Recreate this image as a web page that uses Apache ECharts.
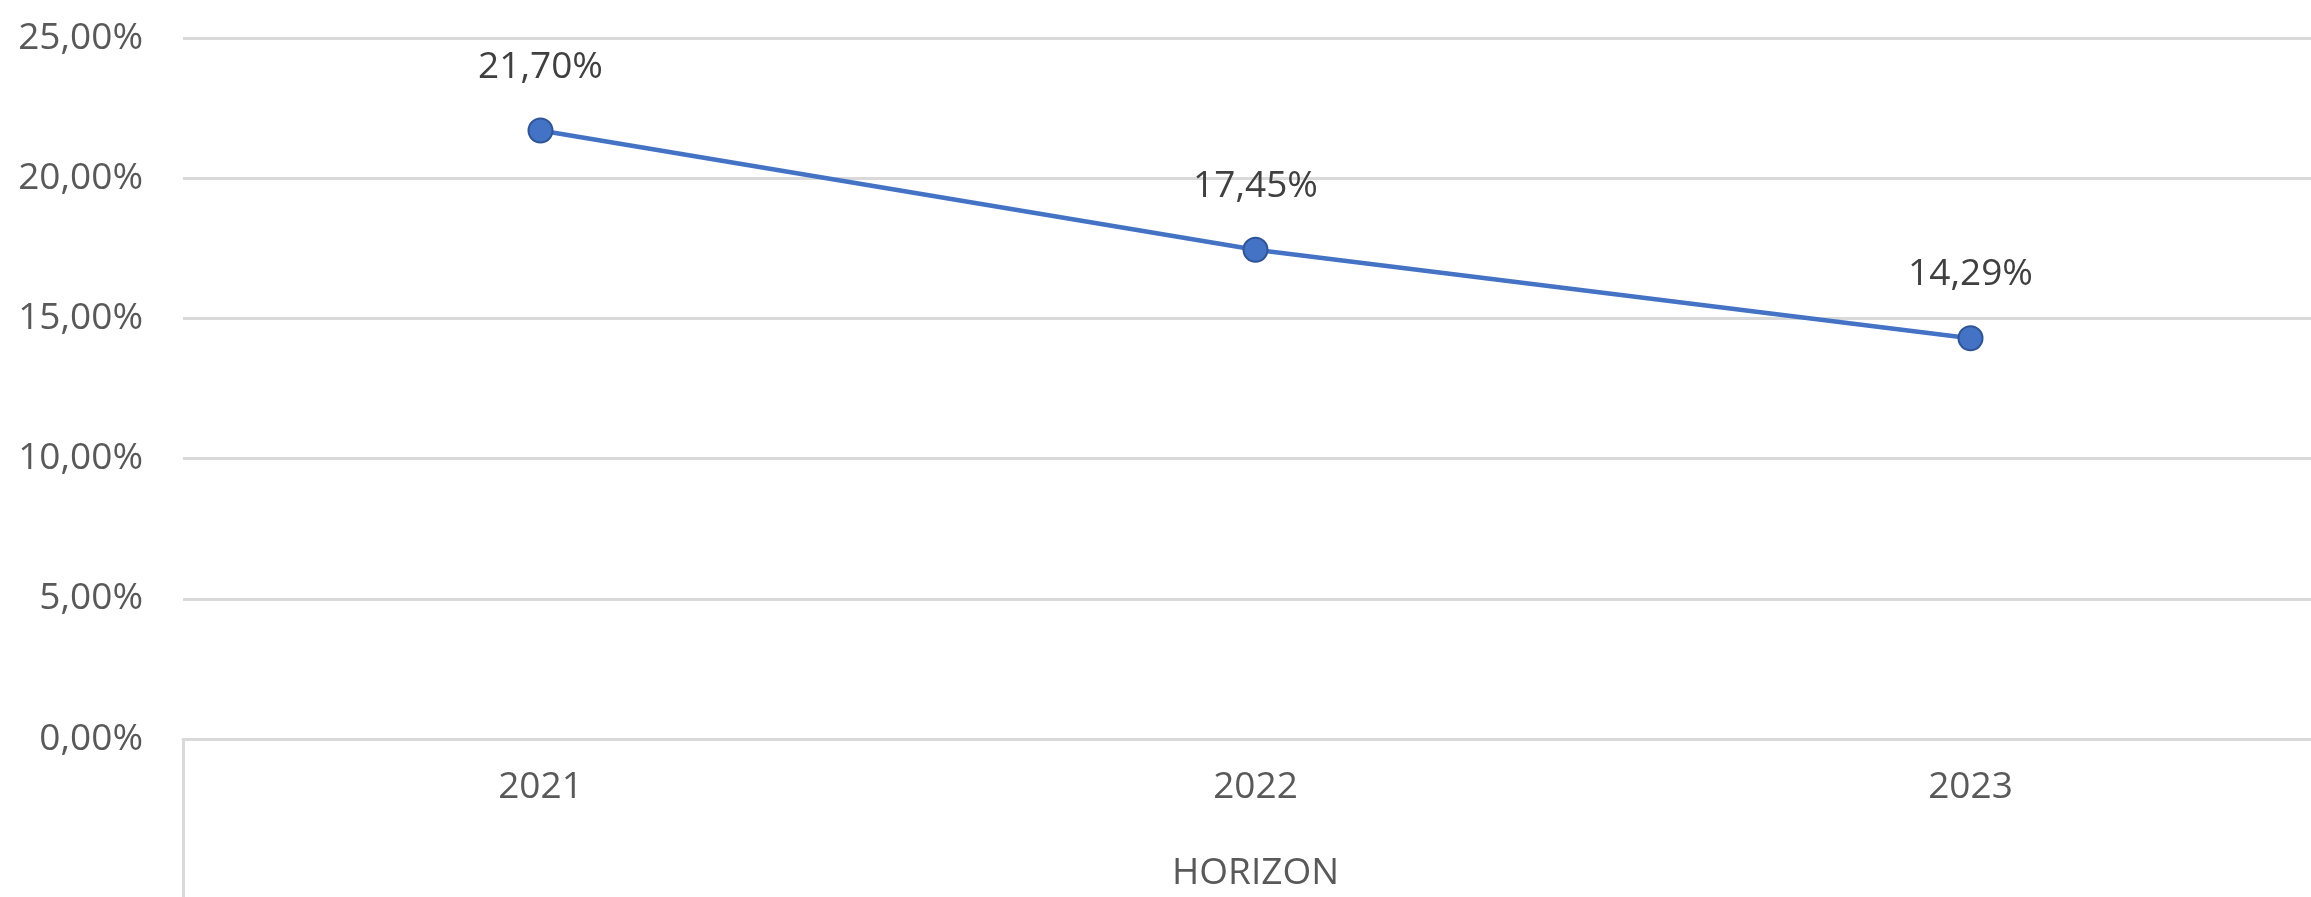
<!DOCTYPE html>
<html>
<head>
<meta charset="utf-8">
<style>
  html, body { margin: 0; padding: 0; background: #fff; }
  #chart { width: 2311px; height: 897px; }
</style>
<script src="https://cdn.jsdelivr.net/npm/echarts@6/dist/echarts.min.js"></script>
</head>
<body>
<div id="chart"></div>
<script>
// data
const years = ['2021', '2022', '2023'];
const rates = [21.70, 17.45, 14.29];
const yTicks = { min: 0, max: 25, interval: 5 };
const axisName = 'HORIZON';

const fontFamily = '"Open Sans", "Liberation Sans", sans-serif';
const gridColor = '#d9d9d9';
const lineColor = '#4472C4';

// 25.5 -> "25,50%"
const pct = v => v.toFixed(2).replace('.', ',') + '%';

const chart = echarts.init(document.getElementById('chart'));
chart.setOption({
  backgroundColor: '#fff',
  animation: false,
  // plot area runs past the right edge, like the cropped Excel chart
  grid: { left: 183, top: 38, bottom: 158, width: 2145, containLabel: false, outerBoundsMode: 'none' },
  xAxis: {
    type: 'category',
    data: years,
    boundaryGap: true,
    name: axisName,
    nameLocation: 'middle',
    nameGap: 116,
    nameTextStyle: { color: '#595959', fontSize: 37, fontFamily },
    axisLine: { show: true, lineStyle: { color: gridColor, width: 3 } },
    // Excel-style separator under the axis, only the first boundary is visible
    axisTick: {
      show: true,
      alignWithLabel: false,
      length: 160,
      interval: (i) => i === 0,
      lineStyle: { color: gridColor, width: 3 },
    },
    axisLabel: { color: '#595959', fontSize: 37, fontFamily, margin: 30 },
    splitLine: { show: false },
  },
  yAxis: {
    type: 'value',
    min: yTicks.min,
    max: yTicks.max,
    interval: yTicks.interval,
    axisLine: { show: false },
    axisTick: { show: false },
    axisLabel: { color: '#595959', fontSize: 37, fontFamily, margin: 40, formatter: pct },
    splitLine: { show: true, lineStyle: { color: gridColor, width: 3 } },
  },
  series: [{
    type: 'line',
    data: rates,
    symbol: 'circle',
    symbolSize: 24,
    lineStyle: { color: lineColor, width: 4.5 },
    itemStyle: { color: lineColor, borderColor: '#2F5597', borderWidth: 2 },
    label: {
      show: true,
      position: 'top',
      distance: 32,
      color: '#404040',
      fontSize: 37,
      fontFamily,
      formatter: p => pct(p.value),
    },
  }],
});
</script>
</body>
</html>
